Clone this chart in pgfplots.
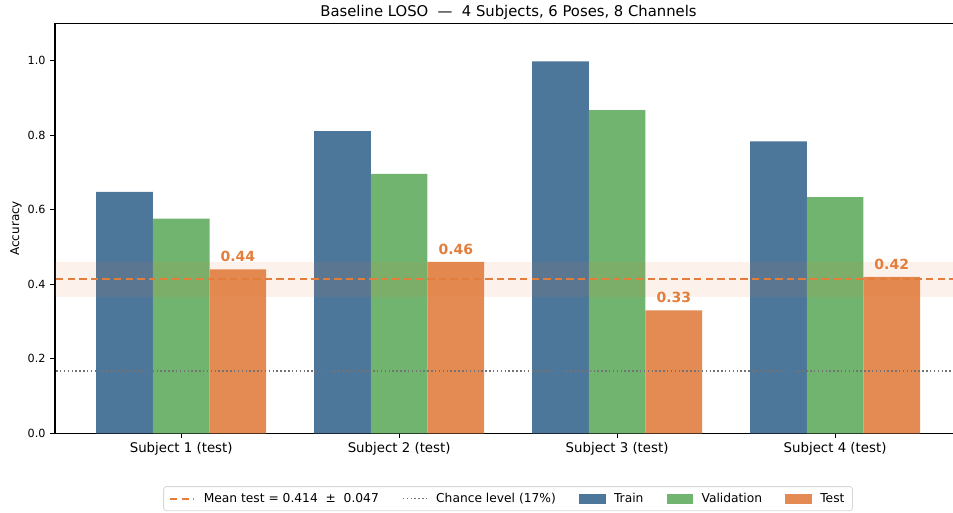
\documentclass[border=0pt]{standalone}
\usepackage{pgfplots}
\pgfplotsset{compat=1.18}
\usepackage{fontspec}
\setmainfont{DejaVu Sans}

\definecolor{trainc}{RGB}{76,118,154}
\definecolor{valc}{RGB}{113,180,111}
\definecolor{testc}{RGB}{228,139,83}
\definecolor{meanc}{RGB}{226,125,60}
\definecolor{chancec}{RGB}{115,115,115}
\definecolor{legframe}{RGB}{215,215,215}

\begin{document}
\begin{tikzpicture}
% fixed page box around the axis
\path[use as bounding box] (-41.25pt,-59pt) rectangle (673.5pt,325pt);
\begin{axis}[
  name=ax,
  at={(0,0)}, anchor=south west,
  scale only axis,
  width=673.5pt, height=307.5pt,
  xmin=-0.579, xmax=3.541,
  ymin=0, ymax=1.1,
  axis x line=box, axis y line=left,
  axis line style={-, line width=0.8pt, black},
  every outer y axis line/.append style={-},
  every outer x axis line/.append style={-},
  xtick={0,1,2,3},
  xticklabels={Subject 1 (test),Subject 2 (test),Subject 3 (test),Subject 4 (test)},
  xtick pos=bottom, ytick pos=left,
  ytick={0,0.2,0.4,0.6,0.8,1.0},
  tick align=outside,
  major tick length=3.6pt,
  tick style={black, line width=0.8pt},
  /pgf/number format/assume math mode=true,
  yticklabel style={font=\fontsize{8.4}{10}\selectfont,
    /pgf/number format/.cd, fixed, fixed zerofill, precision=1},
  xticklabel style={font=\fontsize{10}{12}\selectfont},
  ylabel={Accuracy},
  every axis y label/.style={at={(rel axis cs:-0.0434,0.5)}, rotate=90, anchor=center,
    font=\fontsize{9}{11}\selectfont},
  title={Baseline LOSO\ \ —\ \ 4 Subjects, 6 Poses, 8 Channels},
  every axis title/.style={at={(rel axis cs:0.505,1)}, anchor=base, yshift=5pt,
    font=\fontsize{11.1}{13}\selectfont},
  legend columns=5,
  legend style={at={(rel axis cs:0.5045,-0.129)}, anchor=north,
    draw=legframe, rounded corners=2pt, line width=0.6pt,
    font=\fontsize{9.2}{11}\selectfont,
    inner xsep=4pt, inner ysep=2.8pt,
    /tikz/every odd column/.append style={column sep=4.5pt},
    /tikz/every even column/.append style={column sep=15.5pt}},
  ybar, bar width=0.26,
]
% legend entries, in display order
\addlegendimage{legend image code/.code={%
  \draw[meanc, line width=1.6pt, dash pattern=on 5.5pt off 3.2pt] (0pt,0pt) -- (18pt,0pt);}}
\addlegendentry{Mean test = 0.414\ \ ±\ \ 0.047}
\addlegendimage{legend image code/.code={%
  \draw[chancec, line width=1pt, dash pattern=on 1.1pt off 1.8pt] (0pt,0pt) -- (18pt,0pt);}}
\addlegendentry{Chance level (17\%)}
\addlegendimage{legend image code/.code={%
  \fill[trainc, rounded corners=0pt] (0pt,-3.2pt) rectangle (19pt,3.2pt);}}
\addlegendentry{Train}
\addlegendimage{legend image code/.code={%
  \fill[valc, rounded corners=0pt] (0pt,-3.2pt) rectangle (19pt,3.2pt);}}
\addlegendentry{Validation}
\addlegendimage{legend image code/.code={%
  \fill[testc, rounded corners=0pt] (0pt,-3.2pt) rectangle (19pt,3.2pt);}}
\addlegendentry{Test}

% per-subject accuracies
\addplot[forget plot, fill=trainc, draw=none, bar shift=-0.26]
  coordinates {(0,0.648) (1,0.811) (2,0.998) (3,0.783)};
\addplot[forget plot, fill=valc, draw=none, bar shift=0]
  coordinates {(0,0.576) (1,0.696) (2,0.867) (3,0.634)};
\addplot[forget plot, fill=testc, draw=none, bar shift=0.26,
  nodes near coords={\pgfmathprintnumber[fixed,fixed zerofill,precision=2]{\pgfplotspointmeta}},
  every node near coord/.append style={anchor=base, yshift=5.6pt, inner sep=0pt,
    text=meanc, font=\bfseries\fontsize{10.5}{12}\selectfont}]
  coordinates {(0,0.44) (1,0.46) (2,0.33) (3,0.42)};

% mean test accuracy with +/- one std band
\addplot[forget plot, sharp plot, draw=none, fill=meanc, fill opacity=0.1]
  coordinates {(-1,0.367) (5,0.367) (5,0.461) (-1,0.461)} -- cycle;
\addplot[forget plot, sharp plot, meanc, line width=1.6pt, dash pattern=on 5.5pt off 3.2pt]
  coordinates {(-1,0.414) (5,0.414)};
% chance level for 6 poses
\addplot[forget plot, sharp plot, chancec, line width=1.1pt, dash pattern=on 1.1pt off 1.8pt]
  coordinates {(-1,0.1667) (5,0.1667)};
\end{axis}
\end{tikzpicture}
\end{document}
